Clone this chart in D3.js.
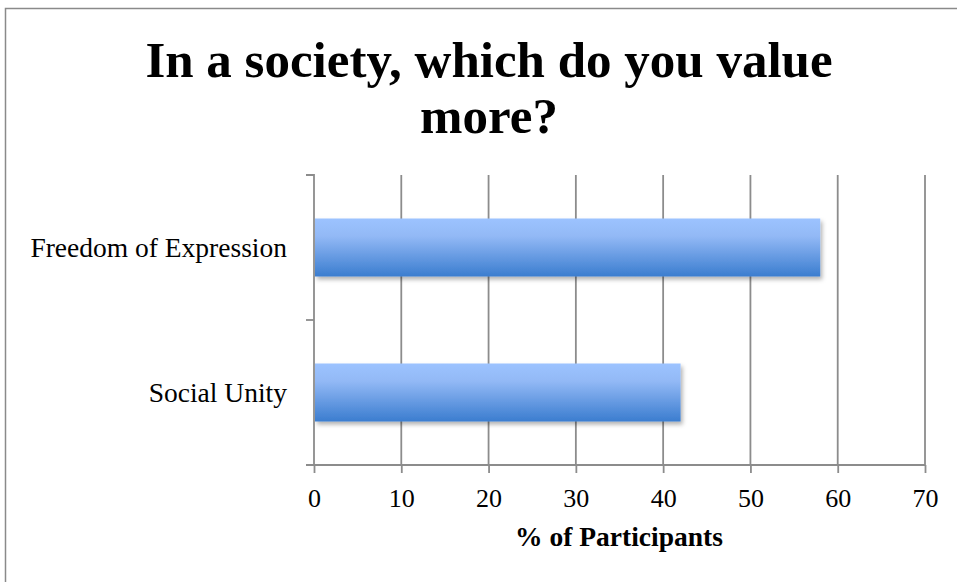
<!DOCTYPE html>
<html><head><meta charset="utf-8">
<script src="https://cdn.jsdelivr.net/npm/d3@7"></script>
<style>body{margin:0;background:#fff;}svg{display:block;}</style>
</head><body>
<script>
const categories = ["Freedom of Expression", "Social Unity"];
const values = [58, 42];
const xTicks = [0, 10, 20, 30, 40, 50, 60, 70];
const titleLines = ["In a society, which do you value", "more?"];
const xTitle = "% of Participants";

(function () {
const W = 957, H = 582;
const svg = d3.select("body").append("svg").attr("width", W).attr("height", H);
const font = "'Liberation Serif', 'DejaVu Serif', serif";

svg.append("rect").attr("x", 5.5).attr("y", 8.5).attr("width", W + 10).attr("height", H + 10)
  .attr("fill", "#fff").attr("stroke", "#8a8a8a").attr("stroke-width", 1.5);

const defs = svg.append("defs");
const g = defs.append("linearGradient").attr("id", "barGrad").attr("x1", 0).attr("y1", 0).attr("x2", 0).attr("y2", 1);
g.append("stop").attr("offset", "0%").attr("stop-color", "#9cc3ff");
g.append("stop").attr("offset", "30%").attr("stop-color", "#93b9f6");
g.append("stop").attr("offset", "100%").attr("stop-color", "#3b7dcf");
const f = defs.append("filter").attr("id", "shadow").attr("x", "-5%").attr("y", "-20%").attr("width", "115%").attr("height", "150%");
f.append("feDropShadow").attr("dx", 2).attr("dy", 3).attr("stdDeviation", 2).attr("flood-color", "#000").attr("flood-opacity", 0.3);

const pl = 314, pr = 925, pt = 175, pb = 465;
const x = d3.scaleLinear().domain([0, 70]).range([pl, pr]);
const y = d3.scaleBand().domain(categories).range([pt, pb]).paddingInner(0.6).paddingOuter(0.3);

svg.append("g").selectAll("line").data(xTicks.slice(1)).join("line")
  .attr("x1", d => x(d)).attr("x2", d => x(d)).attr("y1", pt).attr("y2", pb)
  .attr("stroke", "#8c8c8c").attr("stroke-width", 1.8);

svg.append("g").selectAll("rect").data(categories).join("rect")
  .attr("x", x(0) + 1).attr("y", d => y(d))
  .attr("width", (d, i) => x(values[i]) - x(0) - 1).attr("height", y.bandwidth())
  .attr("fill", "url(#barGrad)").attr("filter", "url(#shadow)");

const xa = svg.append("g").attr("transform", `translate(0,${pb})`)
  .call(d3.axisBottom(x).tickValues(xTicks).tickSize(8).tickPadding(14).tickSizeOuter(0));
xa.select(".domain").attr("stroke", "#8c8c8c").attr("stroke-width", 1.8).attr("d", `M${pl - 8},0H${pr}`);
xa.selectAll(".tick line").attr("stroke", "#8c8c8c").attr("stroke-width", 1.8);
xa.selectAll("text").attr("font-family", font).attr("font-size", 26).attr("fill", "#000")
  .attr("dy", null).attr("y", 42);

const ya = svg.append("g").attr("transform", `translate(${pl},0)`)
  .call(d3.axisLeft(y).tickSize(0).tickPadding(27));
ya.select(".domain").attr("stroke", "#8c8c8c").attr("stroke-width", 1.8).attr("d", `M-8,${pt}H0V${pb}`);
ya.selectAll("text").attr("font-family", font).attr("font-size", 27.5).attr("fill", "#000")
  .attr("dy", null).attr("y", 9);
svg.append("g").selectAll("line").data([pt + (pb - pt) / 2]).join("line")
  .attr("x1", pl - 8).attr("x2", pl).attr("y1", d => d).attr("y2", d => d)
  .attr("stroke", "#8c8c8c").attr("stroke-width", 1.8);

svg.append("text").attr("text-anchor", "middle").attr("font-family", font)
  .attr("font-weight", "bold").attr("font-size", 51).attr("fill", "#000")
  .selectAll("tspan").data(titleLines).join("tspan")
  .attr("x", 489).attr("y", (d, i) => 77 + i * 56).text(d => d);

svg.append("text").attr("x", 619).attr("y", 546).attr("text-anchor", "middle").attr("font-family", font)
  .attr("font-weight", "bold").attr("font-size", 27.5).attr("fill", "#000").text(xTitle);
})();
</script>
</body></html>
